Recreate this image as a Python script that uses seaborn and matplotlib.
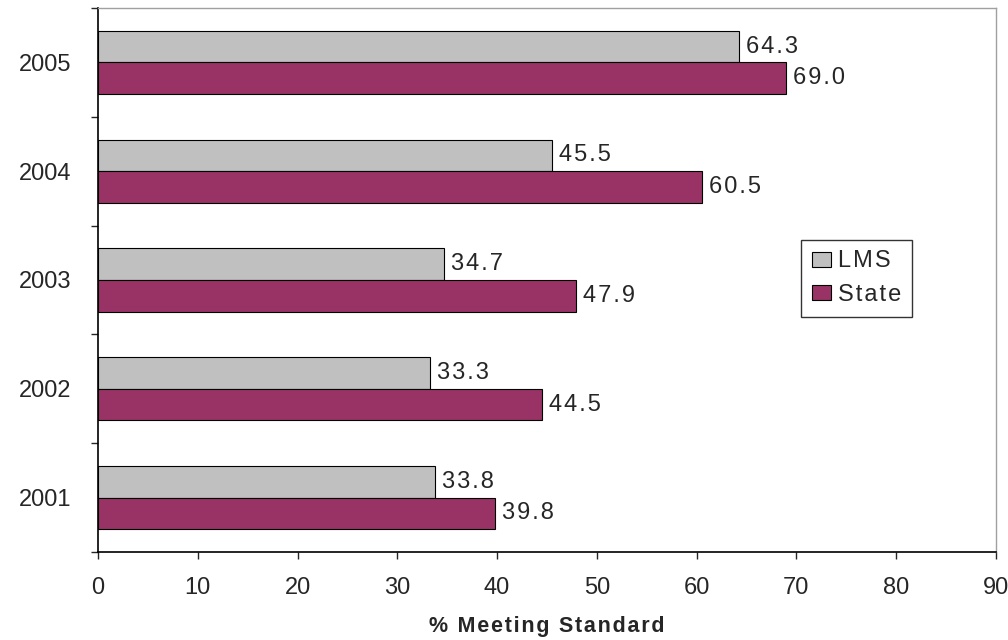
import pandas as pd
import matplotlib
matplotlib.use("Agg")
import matplotlib.pyplot as plt
import seaborn as sns
from matplotlib.ticker import MultipleLocator, FixedLocator

# Data
years = ["2005", "2004", "2003", "2002", "2001"]
lms = [64.3, 45.5, 34.7, 33.3, 33.8]
state = [69.0, 60.5, 47.9, 44.5, 39.8]
series = ["LMS", "State"]
colors = ["#C0C0C0", "#993366"]

df = pd.DataFrame({
    "Year": years * 2,
    "Value": lms + state,
    "Group": ["LMS"] * len(years) + ["State"] * len(years),
})

HAIR = "\u200a"


def spaced(s, sep=HAIR):
    # mimic the loose letter spacing of the original renderer
    return sep.join(s)


sns.set_style("white")
plt.rcParams["font.family"] = ["Liberation Sans", "DejaVu Sans"]

fig = plt.figure(figsize=(10.08, 6.4), dpi=100)
ax = fig.add_axes([0.0972, 0.1375, 0.8908, 0.85])

sns.barplot(data=df, y="Year", x="Value", hue="Group", order=years,
            hue_order=series, palette=colors, saturation=1, orient="h",
            width=0.58, edgecolor="black", linewidth=0.8, ax=ax)

# value labels at the end of each bar
for cont in ax.containers:
    vals = [spaced(f"{b.get_width():.1f}") for b in cont]
    ax.bar_label(cont, labels=vals, padding=5, fontsize=17)

ax.set_xlim(0, 90)
ax.set_ylim(4.5, -0.5)
ax.xaxis.set_major_locator(MultipleLocator(10))
ax.tick_params(axis="x", labelsize=17, length=5, width=1, direction="out",
               bottom=True, pad=13)
ax.tick_params(axis="y", which="major", labelsize=17, length=0, pad=19)
ax.yaxis.set_minor_locator(FixedLocator([-0.5, 0.5, 1.5, 2.5, 3.5, 4.5]))
ax.tick_params(axis="y", which="minor", length=5, width=1, left=True)
ax.set_ylabel("")
ax.set_xlabel(spaced("% Meeting Standard"), fontsize=15.5,
              fontweight="bold", labelpad=12)

for side in ["left", "bottom"]:
    ax.spines[side].set_color("black")
    ax.spines[side].set_linewidth(1.2)
for side in ["top", "right"]:
    ax.spines[side].set_color("#A0A0A0")
    ax.spines[side].set_linewidth(1)

handles, labels = ax.get_legend_handles_labels()
leg = ax.legend(handles, [spaced(l) for l in labels], loc="upper left",
                bbox_to_anchor=(0.783, 0.574), fontsize=17,
                frameon=True, fancybox=False, edgecolor="black",
                handlelength=0.8, handleheight=0.6, handletextpad=0.3,
                borderpad=0.45, labelspacing=0.5, borderaxespad=0)
leg.get_frame().set_linewidth(1)

fig.savefig("out.png", dpi=100)
